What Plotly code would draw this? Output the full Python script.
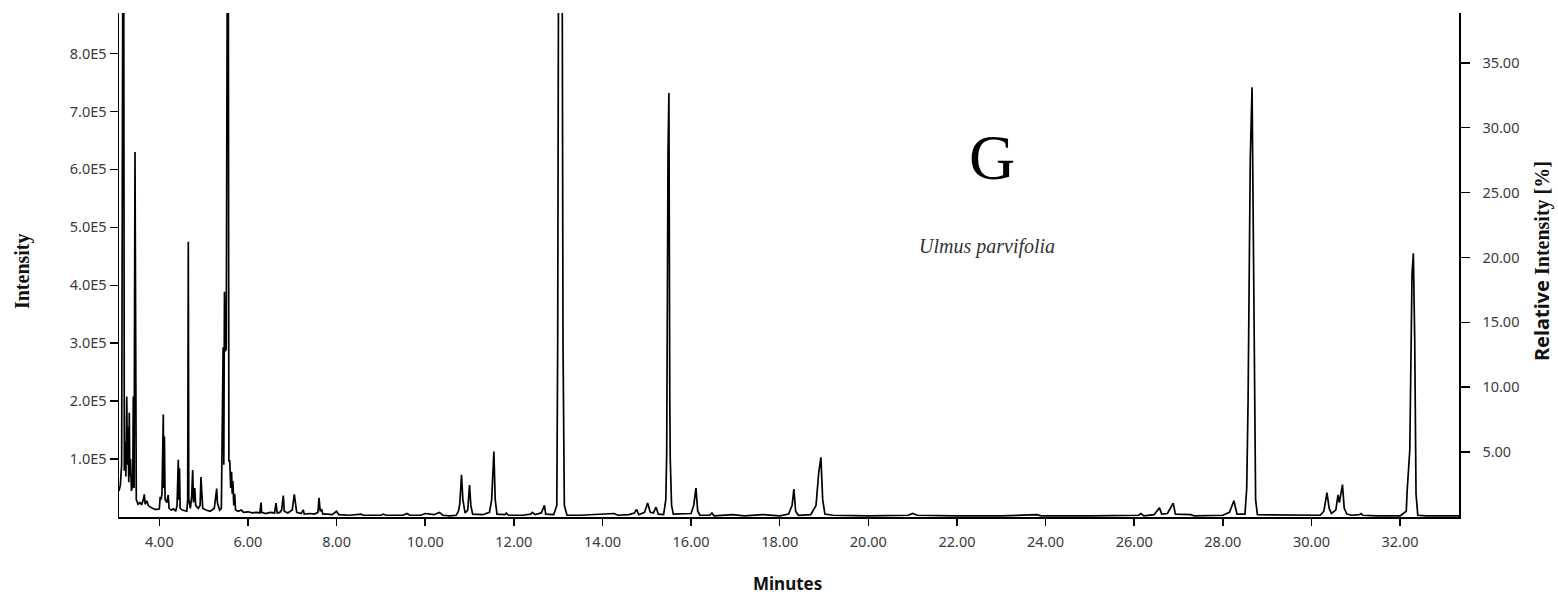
import plotly.graph_objects as go
import numpy as np

# Chromatogram vertices: retention time (min) and intensity (x 1E5 counts)
rt_min = [
    3.09, 3.12, 3.15, 3.19, 3.21, 3.23, 3.245, 3.265, 3.28, 3.295, 3.31, 3.322, 3.335, 3.35, 3.37,
    3.40, 3.413, 3.43, 3.451, 3.467, 3.48, 3.52, 3.56, 3.60, 3.64, 3.661, 3.68, 3.72, 3.75, 3.80,
    3.85, 3.90, 3.95, 4.00, 4.02, 4.04, 4.06, 4.09, 4.10, 4.115, 4.13, 4.17, 4.20, 4.22, 4.27,
    4.32, 4.37, 4.40, 4.428, 4.44, 4.455, 4.47, 4.52, 4.58, 4.62, 4.64, 4.654, 4.665, 4.70, 4.73,
    4.753, 4.77, 4.80, 4.82, 4.88, 4.92, 4.94, 4.96, 4.98, 5.05, 5.15, 5.24, 5.27, 5.295, 5.31,
    5.36, 5.40, 5.41, 5.44, 5.455, 5.47, 5.49, 5.51, 5.55, 5.57, 5.59, 5.61, 5.63, 5.645, 5.66,
    5.68, 5.70, 5.72, 5.78, 5.85, 5.90, 6.00, 6.10, 6.20, 6.27, 6.295, 6.31, 6.40, 6.50, 6.60,
    6.633, 6.66, 6.72, 6.76, 6.798, 6.82, 6.90, 6.95, 7.00, 7.046, 7.07, 7.10, 7.20, 7.249, 7.27,
    7.40, 7.50, 7.58, 7.604, 7.63, 7.66, 7.69, 7.80, 7.90, 8.00, 8.05, 8.30, 8.55, 8.60, 9.00,
    9.05, 9.12, 9.50, 9.59, 9.65, 9.90, 10.00, 10.20, 10.32, 10.40, 10.55, 10.70, 10.75, 10.78,
    10.82, 10.85, 10.90, 10.96, 11.00, 11.03, 11.07, 11.30, 11.45, 11.50, 11.55, 11.58, 11.62,
    11.80, 11.83, 11.88, 12.20, 12.38, 12.42, 12.48, 12.62, 12.69, 12.72, 12.90, 12.97, 12.99,
    13.05, 13.11, 13.14, 13.20, 13.50, 13.80, 14.26, 14.35, 14.60, 14.72, 14.77, 14.82, 14.95,
    15.02, 15.08, 15.15, 15.21, 15.26, 15.38, 15.43, 15.45, 15.48, 15.50, 15.52, 15.53, 15.56,
    15.60, 16.00, 16.06, 16.11, 16.15, 16.20, 16.42, 16.47, 16.52, 16.94, 17.20, 17.62, 18.00,
    18.20, 18.28, 18.32, 18.36, 18.42, 18.70, 18.82, 18.86, 18.88, 18.93, 18.97, 19.02, 19.20,
    20.00, 20.90, 21.00, 21.10, 22.00, 23.00, 23.80, 23.90, 25.00, 26.10, 26.15, 26.22, 26.45,
    26.57, 26.62, 26.75, 26.88, 26.93, 27.28, 27.35, 28.00, 28.15, 28.25, 28.32, 28.50, 28.54,
    28.57, 28.62, 28.66, 28.70, 28.74, 28.78, 30.20, 30.28, 30.35, 30.40, 30.45, 30.55, 30.60,
    30.63, 30.67, 30.70, 30.74, 30.80, 30.90, 31.08, 31.12, 31.16, 31.50, 32.00, 32.14, 32.16,
    32.22, 32.27, 32.30, 32.33, 32.36, 32.40, 32.60, 33.33,
]
intensity_e5 = [
    0.45, 0.55, 0.90, 14.0, 0.80, 1.30, 0.70, 2.08, 0.90, 1.55, 0.60, 1.80, 0.70, 1.00, 0.45,
    0.55, 2.08, 0.50, 6.30, 0.72, 0.30, 0.22, 0.25, 0.21, 0.30, 0.39, 0.22, 0.28, 0.20, 0.17,
    0.15, 0.13, 0.13, 0.14, 0.35, 0.30, 0.40, 1.77, 0.50, 1.39, 0.30, 0.25, 0.38, 0.15, 0.12,
    0.14, 0.10, 0.20, 0.99, 0.30, 0.84, 0.15, 0.12, 0.10, 0.10, 0.30, 4.75, 0.30, 0.15, 0.35,
    0.81, 0.25, 0.50, 0.20, 0.15, 0.20, 0.69, 0.40, 0.15, 0.12, 0.10, 0.15, 0.30, 0.49, 0.25,
    0.12, 0.15, 0.95, 2.93, 0.90, 3.89, 2.86, 2.90, 14.0, 0.96, 0.98, 0.50, 0.78, 0.40, 0.62,
    0.20, 0.40, 0.12, 0.10, 0.12, 0.08, 0.09, 0.07, 0.08, 0.07, 0.25, 0.08, 0.06, 0.08, 0.07,
    0.24, 0.07, 0.08, 0.12, 0.37, 0.10, 0.07, 0.10, 0.12, 0.39, 0.20, 0.08, 0.06, 0.12, 0.05,
    0.06, 0.05, 0.08, 0.33, 0.10, 0.14, 0.05, 0.05, 0.04, 0.10, 0.04, 0.03, 0.05, 0.03, 0.03,
    0.05, 0.03, 0.03, 0.06, 0.03, 0.03, 0.06, 0.04, 0.08, 0.03, 0.02, 0.03, 0.10, 0.22,
    0.73, 0.30, 0.07, 0.12, 0.55, 0.20, 0.05, 0.04, 0.08, 0.30, 1.13, 0.30, 0.05,
    0.04, 0.07, 0.03, 0.03, 0.05, 0.08, 0.04, 0.07, 0.20, 0.05, 0.04, 0.20, 3.00,
    24.0, 3.00, 0.20, 0.03, 0.03, 0.04, 0.06, 0.03, 0.04, 0.07, 0.13, 0.04, 0.08,
    0.24, 0.08, 0.07, 0.17, 0.05, 0.04, 0.30, 1.10, 6.30, 7.32, 2.00, 1.00, 0.20,
    0.05, 0.06, 0.20, 0.50, 0.10, 0.03, 0.03, 0.07, 0.02, 0.04, 0.02, 0.04, 0.02,
    0.05, 0.20, 0.48, 0.10, 0.03, 0.04, 0.20, 0.57, 0.76, 1.03, 0.30, 0.05, 0.03,
    0.02, 0.03, 0.06, 0.03, 0.02, 0.02, 0.04, 0.02, 0.02, 0.03, 0.06, 0.02, 0.04,
    0.16, 0.05, 0.06, 0.24, 0.05, 0.04, 0.02, 0.03, 0.08, 0.28, 0.05, 0.05, 0.50,
    2.00, 6.20, 7.42, 3.00, 0.30, 0.04, 0.03, 0.10, 0.42, 0.15, 0.06, 0.12, 0.38,
    0.25, 0.42, 0.56, 0.15, 0.05, 0.03, 0.04, 0.06, 0.03, 0.02, 0.02, 0.10, 0.45,
    1.16, 4.20, 4.55, 3.10, 0.40, 0.03, 0.02, 0.02,
]

x_ticks = [4, 6, 8, 10, 12, 14, 16, 18, 20, 22, 24, 26, 28, 30, 32]
x_ticklabels = ["4.00", "6.00", "8.00", "10.00", "12.00", "14.00", "16.00", "18.00",
                "20.00", "22.00", "24.00", "26.00", "28.00", "30.00", "32.00"]
y_ticks_e5 = [1, 2, 3, 4, 5, 6, 7, 8]
y_ticklabels = ["1.0E5", "2.0E5", "3.0E5", "4.0E5", "5.0E5", "6.0E5", "7.0E5", "8.0E5"]
rel_ticks = [5, 10, 15, 20, 25, 30, 35]
rel_ticklabels = ["5.00", "10.00", "15.00", "20.00", "25.00", "30.00", "35.00"]

x_range = [3.09, 33.33]
y_max = 8.7e5
rel_max = 38.84

intensity = np.array(intensity_e5) * 1e5

fig = go.Figure()
fig.add_trace(go.Scatter(x=rt_min, y=intensity, mode="lines",
                         line=dict(color="black", width=1.7),
                         hoverinfo="skip", showlegend=False))
fig.add_trace(go.Scatter(x=x_range, y=[0, 0], yaxis="y2", mode="lines",
                         line=dict(color="rgba(0,0,0,0)", width=0),
                         hoverinfo="skip", showlegend=False))

tick_font = dict(family="Noto Sans, Open Sans, sans-serif", size=14.5, color="#3a3a3a")

fig.update_layout(
    width=1558, height=597,
    margin=dict(l=119, r=99, t=13, b=80),
    paper_bgcolor="white", plot_bgcolor="white",
    hovermode=False,
    xaxis=dict(range=x_range, tickvals=x_ticks, ticktext=x_ticklabels,
               showgrid=False, zeroline=False, showline=True, linecolor="black",
               linewidth=2, ticks="outside", ticklen=7, tickwidth=1.5, tickcolor="black",
               tickfont=tick_font, ticklabelstandoff=4),
    yaxis=dict(range=[0, y_max], tickvals=[v * 1e5 for v in y_ticks_e5], ticktext=y_ticklabels,
               showgrid=False, zeroline=False, showline=True, linecolor="black",
               linewidth=1.5, ticks="outside", ticklen=8, tickwidth=1.5, tickcolor="black",
               tickfont=tick_font, ticklabelstandoff=0),
    yaxis2=dict(range=[0, rel_max], tickvals=rel_ticks, ticktext=rel_ticklabels,
                overlaying="y", side="right", anchor="x",
                showgrid=False, zeroline=False, showline=True, linecolor="black",
                linewidth=1.5, ticks="outside", ticklen=9, tickwidth=1.5, tickcolor="black",
                tickfont=tick_font, ticklabelstandoff=10),
)

annotations = [
    dict(text="<b>Intensity</b>", x=-0.0724, y=0.488, textangle=-90,
         font=dict(family="Liberation Serif, serif", size=20, color="#111")),
    dict(text="<b><span style='font-family:Noto Sans'>Relative</span> Intensity [%]</b>",
         x=1.062, y=0.508, textangle=-90,
         font=dict(family="Liberation Serif, serif", size=20, color="#111")),
    dict(text="<b>Minutes</b>", x=0.499, y=-0.131,
         font=dict(family="Noto Sans, sans-serif", size=17, color="#111")),
    dict(text="G", x=0.6515, y=0.714,
         font=dict(family="Liberation Serif, serif", size=64, color="black")),
    dict(text="<i>Ulmus parvifolia</i>", x=0.648, y=0.536,
         font=dict(family="Liberation Serif, serif", size=20, color="#333")),
]
for a in annotations:
    fig.add_annotation(xref="paper", yref="paper", showarrow=False,
                       xanchor="center", yanchor="middle", **a)

fig.write_html("out.html", config={"displayModeBar": False, "staticPlot": True},
               post_script="document.body.style.margin='0';document.body.style.overflow='hidden';")
